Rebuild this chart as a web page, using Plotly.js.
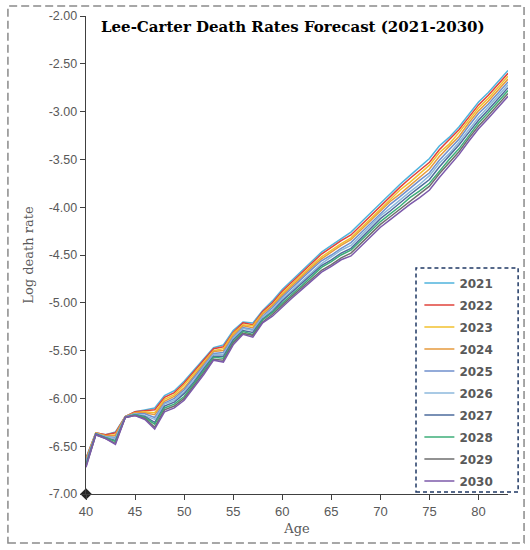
<!DOCTYPE html>
<html>
<head>
<meta charset="utf-8">
<script src="https://cdn.plot.ly/plotly-3.0.1.min.js"></script>
<style>
  body { margin: 0; background: #fff; }
  #chart { width: 530px; height: 550px; }
</style>
</head>
<body>
<div id="chart"></div>
<script>
// ages on the x axis
const ages = [40,41,42,43,44,45,46,47,48,49,50,51,52,53,54,55,56,57,58,59,60,61,62,63,64,65,66,67,68,69,70,71,72,73,74,75,76,77,78,79,80,81,82,83];

const years = ['2021','2022','2023','2024','2025','2026','2027','2028','2029','2030'];

// y tick labels, written with a plain hyphen like the original
const yTickVals = [-7,-6.5,-6,-5.5,-5,-4.5,-4,-3.5,-3,-2.5,-2];
const yTickText = ['-7.00','-6.50','-6.00','-5.50','-5.00','-4.50','-4.00','-3.50','-3.00','-2.50','-2.00'];

// forecast log death rates, one array per year
const y2021 = [-6.62,-6.36,-6.38,-6.35,-6.19,-6.14,-6.12,-6.10,-5.97,-5.92,-5.82,-5.70,-5.58,-5.47,-5.44,-5.29,-5.20,-5.21,-5.08,-4.98,-4.86,-4.76,-4.66,-4.56,-4.47,-4.40,-4.33,-4.26,-4.16,-4.06,-3.95,-3.85,-3.76,-3.67,-3.58,-3.49,-3.36,-3.27,-3.16,-3.03,-2.90,-2.80,-2.68,-2.57];
const y2022 = [-6.63,-6.36,-6.38,-6.36,-6.19,-6.14,-6.13,-6.12,-5.99,-5.94,-5.84,-5.72,-5.60,-5.48,-5.46,-5.31,-5.21,-5.23,-5.09,-5.00,-4.88,-4.78,-4.68,-4.58,-4.49,-4.42,-4.35,-4.29,-4.19,-4.09,-3.98,-3.88,-3.79,-3.70,-3.62,-3.53,-3.40,-3.30,-3.19,-3.06,-2.93,-2.83,-2.71,-2.60];
const y2023 = [-6.64,-6.36,-6.39,-6.38,-6.19,-6.15,-6.14,-6.15,-6.01,-5.96,-5.86,-5.74,-5.62,-5.50,-5.48,-5.32,-5.23,-5.24,-5.11,-5.02,-4.90,-4.80,-4.70,-4.61,-4.52,-4.45,-4.38,-4.32,-4.22,-4.12,-4.01,-3.91,-3.82,-3.74,-3.65,-3.56,-3.43,-3.34,-3.22,-3.09,-2.96,-2.86,-2.74,-2.63];
const y2024 = [-6.65,-6.37,-6.39,-6.39,-6.19,-6.15,-6.15,-6.17,-6.03,-5.98,-5.89,-5.76,-5.64,-5.51,-5.50,-5.34,-5.24,-5.26,-5.12,-5.03,-4.92,-4.82,-4.73,-4.63,-4.54,-4.47,-4.40,-4.34,-4.24,-4.14,-4.04,-3.94,-3.86,-3.77,-3.69,-3.60,-3.47,-3.37,-3.26,-3.12,-2.99,-2.89,-2.77,-2.66];
const y2025 = [-6.66,-6.37,-6.40,-6.41,-6.19,-6.16,-6.16,-6.20,-6.05,-6.00,-5.91,-5.78,-5.66,-5.53,-5.52,-5.36,-5.26,-5.28,-5.14,-5.05,-4.94,-4.84,-4.75,-4.65,-4.56,-4.50,-4.43,-4.37,-4.27,-4.17,-4.07,-3.97,-3.89,-3.80,-3.72,-3.64,-3.51,-3.40,-3.29,-3.15,-3.02,-2.92,-2.80,-2.69];
const y2026 = [-6.68,-6.37,-6.40,-6.42,-6.20,-6.16,-6.18,-6.22,-6.06,-6.02,-5.93,-5.81,-5.67,-5.54,-5.54,-5.37,-5.27,-5.29,-5.15,-5.07,-4.96,-4.87,-4.77,-4.68,-4.59,-4.52,-4.45,-4.40,-4.30,-4.20,-4.09,-4.01,-3.92,-3.84,-3.76,-3.67,-3.54,-3.44,-3.32,-3.19,-3.06,-2.95,-2.83,-2.72];
const y2027 = [-6.69,-6.37,-6.41,-6.44,-6.20,-6.17,-6.19,-6.25,-6.08,-6.04,-5.95,-5.83,-5.69,-5.56,-5.56,-5.39,-5.29,-5.31,-5.17,-5.09,-4.98,-4.89,-4.79,-4.70,-4.61,-4.55,-4.48,-4.43,-4.33,-4.23,-4.12,-4.04,-3.95,-3.87,-3.79,-3.71,-3.58,-3.47,-3.35,-3.22,-3.09,-2.98,-2.86,-2.75];
const y2028 = [-6.70,-6.38,-6.41,-6.45,-6.20,-6.17,-6.20,-6.27,-6.10,-6.06,-5.98,-5.85,-5.71,-5.57,-5.58,-5.41,-5.30,-5.33,-5.18,-5.10,-5.00,-4.91,-4.82,-4.72,-4.63,-4.57,-4.50,-4.45,-4.35,-4.25,-4.15,-4.07,-3.99,-3.90,-3.83,-3.75,-3.62,-3.50,-3.39,-3.25,-3.12,-3.01,-2.89,-2.78];
const y2029 = [-6.71,-6.38,-6.42,-6.47,-6.20,-6.18,-6.21,-6.30,-6.12,-6.08,-6.00,-5.87,-5.73,-5.59,-5.60,-5.42,-5.32,-5.34,-5.20,-5.12,-5.02,-4.93,-4.84,-4.75,-4.66,-4.60,-4.53,-4.48,-4.38,-4.28,-4.18,-4.10,-4.02,-3.94,-3.86,-3.78,-3.65,-3.54,-3.42,-3.28,-3.15,-3.04,-2.92,-2.81];
const y2030 = [-6.72,-6.38,-6.42,-6.48,-6.20,-6.18,-6.22,-6.32,-6.14,-6.10,-6.02,-5.89,-5.75,-5.60,-5.62,-5.44,-5.33,-5.36,-5.21,-5.14,-5.04,-4.95,-4.86,-4.77,-4.68,-4.62,-4.55,-4.51,-4.41,-4.31,-4.21,-4.13,-4.05,-3.97,-3.90,-3.82,-3.69,-3.57,-3.45,-3.31,-3.18,-3.07,-2.95,-2.84];

const series = [y2021,y2022,y2023,y2024,y2025,y2026,y2027,y2028,y2029,y2030];
const colors = ['#4fb3dd','#e0433b','#f2c12e','#e69a3c','#6f8fcc','#8cb8dc','#4d6b9c','#3cae78','#6e6e6e','#7c5aaa'];

const gray = '#595959';
const serif = 'DejaVu Serif, serif';
const sans = 'Liberation Sans, sans-serif';

const traces = series.map((ys, i) => ({
  x: ages,
  y: ys,
  name: years[i],
  legendgroup: 'g' + i,
  type: 'scatter',
  mode: 'lines',
  line: { color: colors[i], width: 1.5 }
}));

// the little black diamond sitting on the origin
traces.push({
  x: [40], y: [-7],
  mode: 'markers',
  marker: { symbol: 'diamond', size: 9, color: '#262626' },
  cliponaxis: false,
  showlegend: false,
  hoverinfo: 'skip'
});

const layout = {
  width: 530,
  height: 550,
  margin: { l: 86, r: 22, t: 16, b: 56 },
  paper_bgcolor: '#fff',
  plot_bgcolor: '#fff',
  showlegend: true,
  legend: {
    x: 0.79, xanchor: 'left',
    y: 0.472, yanchor: 'top',
    bgcolor: 'rgba(0,0,0,0)',
    borderwidth: 0,
    tracegroupgap: 3,
    font: { family: 'DejaVu Sans, sans-serif', size: 12, color: gray, weight: 'bold' }
  },
  xaxis: {
    range: [40, 83],
    tick0: 40, dtick: 5,
    showline: true, linecolor: '#404040', linewidth: 1.3,
    ticks: 'outside', ticklen: 5, tickcolor: '#404040',
    showgrid: false, zeroline: false,
    tickfont: { family: sans, size: 13, color: gray },
    title: { text: 'Age', font: { family: serif, size: 13, color: gray }, standoff: 6 }
  },
  yaxis: {
    range: [-7, -2],
    tickmode: 'array',
    tickvals: yTickVals,
    ticktext: yTickText,
    showline: true, linecolor: '#404040', linewidth: 1.3,
    ticks: 'outside', ticklen: 5, tickcolor: '#404040',
    showgrid: false, zeroline: false,
    tickfont: { family: sans, size: 12.5, color: gray },
    title: { text: 'Log death rate', font: { family: serif, size: 13, color: gray }, standoff: 12 }
  },
  annotations: [{
    xref: 'paper', yref: 'paper',
    x: 0.49, y: 1.0, yanchor: 'top',
    text: '<b>Lee-Carter Death Rates Forecast (2021-2030)</b>',
    showarrow: false,
    font: { family: serif, size: 15, color: '#000' }
  }],
  shapes: [
    // dashed frame round the whole chart
    { type: 'rect', xref: 'paper', yref: 'paper',
      x0: -0.185, x1: 1.038, y0: -0.1025, y1: 1.021,
      line: { color: '#8a8a8a', width: 1.5, dash: '8px,4px' } },
    // dashed box round the legend
    { type: 'rect', xref: 'paper', yref: 'paper',
      x0: 0.782, x1: 1.024, y0: 0.004, y1: 0.473,
      line: { color: '#1f3864', width: 1.5, dash: '4px,3px' } }
  ]
};

Plotly.newPlot('chart', traces, layout, { staticPlot: true });
</script>
</body>
</html>
